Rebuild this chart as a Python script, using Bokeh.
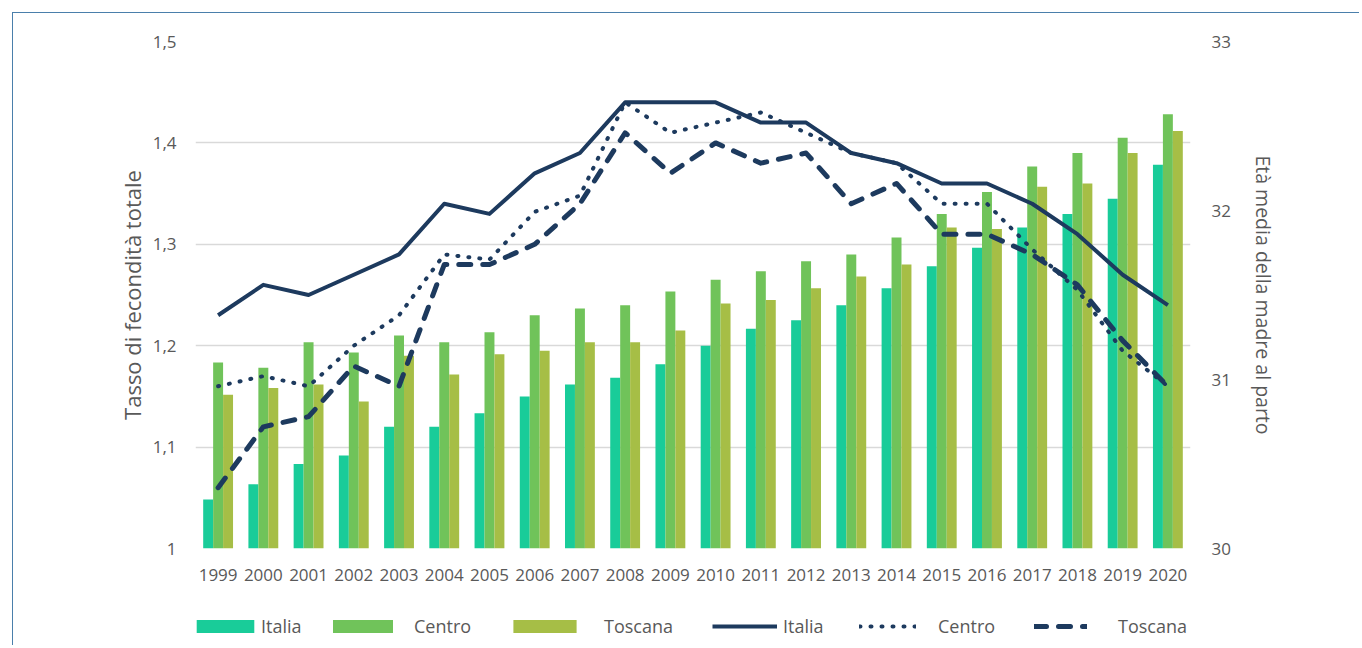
from bokeh.plotting import figure
from bokeh.layouts import column
from bokeh.models import (Range1d, LinearAxis, FixedTicker, Legend, LegendItem,
                          FactorRange, ColumnDataSource)
from bokeh.transform import dodge
from bokeh.embed import file_html
from bokeh.resources import INLINE

# ---------------- data ----------------
years = ["1999", "2000", "2001", "2002", "2003", "2004", "2005", "2006", "2007", "2008", "2009",
         "2010", "2011", "2012", "2013", "2014", "2015", "2016", "2017", "2018", "2019", "2020"]

# Tasso di fecondità totale (left axis, lines)
tft_italia = [1.23, 1.26, 1.25, 1.27, 1.29, 1.34, 1.33, 1.37, 1.39, 1.44, 1.44,
              1.44, 1.42, 1.42, 1.39, 1.38, 1.36, 1.36, 1.34, 1.31, 1.27, 1.24]
tft_centro = [1.16, 1.17, 1.16, 1.20, 1.23, 1.29, 1.285, 1.332, 1.348, 1.44, 1.41,
              1.42, 1.43, 1.41, 1.39, 1.38, 1.34, 1.34, 1.295, 1.255, 1.195, 1.16]
tft_toscana = [1.06, 1.12, 1.13, 1.18, 1.16, 1.28, 1.28, 1.30, 1.34, 1.41, 1.37,
               1.40, 1.38, 1.39, 1.34, 1.36, 1.31, 1.31, 1.29, 1.26, 1.205, 1.16]

# Età media della madre al parto (right axis, bars)
age_italia = [30.29, 30.38, 30.50, 30.55, 30.72, 30.72, 30.80, 30.90, 30.97, 31.01, 31.09,
              31.20, 31.30, 31.35, 31.44, 31.54, 31.67, 31.78, 31.90, 31.98, 32.07, 32.27]
age_centro = [31.10, 31.07, 31.22, 31.16, 31.26, 31.22, 31.28, 31.38, 31.42, 31.44, 31.52,
              31.59, 31.64, 31.70, 31.74, 31.84, 31.98, 32.11, 32.26, 32.34, 32.43, 32.57]
age_toscana = [30.91, 30.95, 30.97, 30.87, 31.14, 31.03, 31.15, 31.17, 31.22, 31.22, 31.29,
               31.45, 31.47, 31.54, 31.61, 31.68, 31.90, 31.89, 32.14, 32.16, 32.34, 32.47]

left_ticks = [1.0, 1.1, 1.2, 1.3, 1.4, 1.5]
left_tick_labels = ["1", "1,1", "1,2", "1,3", "1,4", "1,5"]
right_ticks = [30, 31, 32, 33]
legend_labels = ["Italia", "Centro", "Toscana"]

FONT = "Open Sans"
GREY = "#595959"
NAVY = "#1d3a5e"
C_IT = "#19cc99"
C_CE = "#70c35a"
C_TO = "#a6be46"
W = 1346

src = ColumnDataSource(dict(year=years, ti=tft_italia, tc=tft_centro, tt=tft_toscana,
                            ai=age_italia, ac=age_centro, at=age_toscana))

p = figure(x_range=FactorRange(*years), y_range=Range1d(1.0, 1.5),
           width=W, height=580, output_backend="svg", toolbar_location=None,
           min_border_left=182, min_border_right=169, min_border_top=28, min_border_bottom=45)
p.extra_y_ranges = {"age": Range1d(30, 33)}
p.outline_line_color = None

bw = 0.22
bar_kw = dict(bottom=30, width=bw, y_range_name="age", source=src, line_color=None)
p.vbar(x=dodge("year", -bw, range=p.x_range), top="ai", fill_color=C_IT, **bar_kw)
p.vbar(x=dodge("year", 0, range=p.x_range), top="ac", fill_color=C_CE, **bar_kw)
p.vbar(x=dodge("year", bw, range=p.x_range), top="at", fill_color=C_TO, **bar_kw)

solid_kw = dict(line_color=NAVY, line_width=4, line_join="round")
dot_kw = dict(line_color=NAVY, line_width=4, line_join="round", line_cap="round", line_dash="1 10")
dash_kw = dict(line_color=NAVY, line_width=5, line_join="round", line_cap="round", line_dash="12 12")
p.line(x="year", y="ti", source=src, **solid_kw)
p.line(x="year", y="tc", source=src, **dot_kw)
p.line(x="year", y="tt", source=src, **dash_kw)

# axes
p.xgrid.grid_line_color = None
p.ygrid.grid_line_color = "#d9d9d9"
p.ygrid.grid_line_width = 1.3

yl = p.yaxis[0]
yl.ticker = FixedTicker(ticks=left_ticks)
yl.major_label_overrides = dict(zip(left_ticks, left_tick_labels))
yl.axis_label = "Tasso di fecondità totale"

yr = LinearAxis(y_range_name="age", ticker=FixedTicker(ticks=right_ticks),
                axis_label="Età media della madre al parto")
p.add_layout(yr, "right")

for ax in [yl, yr]:
    ax.axis_line_color = None
    ax.major_tick_line_color = None
    ax.minor_tick_line_color = None
    ax.major_label_text_font = FONT
    ax.major_label_text_font_size = "17px"
    ax.major_label_text_color = GREY
    ax.axis_label_text_font = FONT
    ax.axis_label_text_font_style = "normal"
    ax.axis_label_text_color = GREY
yl.axis_label_text_font_size = "22px"
yr.axis_label_text_font_size = "19.5px"
yl.major_label_standoff = 13
yl.axis_label_standoff = 3
yr.major_label_standoff = 15
yr.axis_label_standoff = 16

xa = p.xaxis[0]
xa.axis_line_color = None
xa.major_tick_line_color = None
xa.minor_tick_line_color = None
xa.major_label_text_font = FONT
xa.major_label_text_font_size = "17px"
xa.major_label_text_color = GREY
xa.major_label_standoff = 14

# ---------------- legend strip (key swatches only; their data lies outside the view) ----------------
q = figure(width=W, height=52, output_backend="svg", toolbar_location=None,
           x_range=Range1d(0, 1), y_range=Range1d(0, 1),
           x_axis_type=None, y_axis_type=None,
           min_border_left=0, min_border_right=0, min_border_top=0, min_border_bottom=0)
q.grid.visible = False
q.outline_line_color = None
key = ColumnDataSource(dict(x=[-5, -4], y=[-5, -5]))
k_kw = dict(x="x", top="y", bottom=-6, width=0.1, source=key, line_color=None)
kb_it = q.vbar(fill_color=C_IT, **k_kw)
kb_ce = q.vbar(fill_color=C_CE, **k_kw)
kb_to = q.vbar(fill_color=C_TO, **k_kw)
kl_it = q.line(x="x", y="y", source=key, **solid_kw)
kl_ce = q.line(x="x", y="y", source=key, **dot_kw)
kl_to = q.line(x="x", y="y", source=key, **dash_kw)

LY = 7
# (renderer, label, x offset from frame, glyph width, label standoff)
entries = [
    (kb_it, legend_labels[0], -6, 72, -2),
    (kb_ce, legend_labels[1], 130, 75, 14),
    (kb_to, legend_labels[2], 310, 79, 20),
    (kl_it, legend_labels[0], 517, 65, 6),
    (kl_ce, legend_labels[1], 664, 57, 22),
    (kl_to, legend_labels[2], 839, 53, 31),
]
for rend, lab, lx, gw, so in entries:
    leg = Legend(items=[LegendItem(label=lab, renderers=[rend])], location=(lx, LY),
                 orientation="horizontal", glyph_width=gw, glyph_height=16,
                 label_standoff=so, padding=0, margin=0, spacing=0,
                 border_line_alpha=0, background_fill_alpha=0,
                 label_text_font=FONT, label_text_font_size="18px",
                 label_text_color=GREY, label_height=16)
    q.add_layout(leg, "center")

layout = column(p, q, spacing=0)
layout.margin = (12, 0, 0, 12)
layout.styles = {"border-left": "1.5px solid #4a7fab", "border-top": "1.5px solid #4a7fab"}

open("out.html", "w").write(file_html(layout, INLINE))
